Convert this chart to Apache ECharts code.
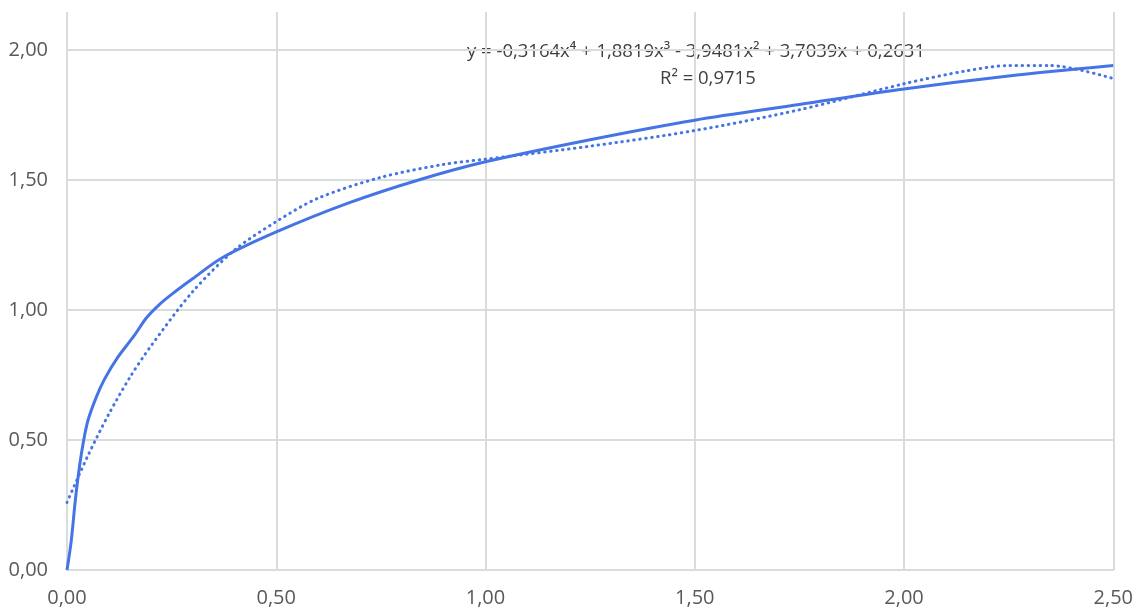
<!DOCTYPE html>
<html>
<head>
<meta charset="utf-8">
<title>Curve with polynomial trendline</title>
<script src="https://cdn.jsdelivr.net/npm/echarts@6/dist/echarts.min.js"></script>
<style>
  html, body { margin: 0; padding: 0; background: #fff; }
  #chart { width: 1136px; height: 610px; }
</style>
</head>
<body>
<div id="chart"></div>
<script>
const curveX = [0, 0.01, 0.02, 0.03, 0.04, 0.05, 0.07, 0.09, 0.12, 0.16, 0.19, 0.22, 0.25, 0.3, 0.37, 0.5, 0.67, 0.84, 1.0, 1.25, 1.5, 1.75, 2.0, 2.25, 2.5]
const curveY = [0, 0.11, 0.27, 0.40, 0.50, 0.575, 0.665, 0.735, 0.815, 0.90, 0.97, 1.02, 1.06, 1.12, 1.20, 1.30, 1.41, 1.50, 1.57, 1.655, 1.73, 1.79, 1.85, 1.90, 1.94]

// polynomial trendline (dotted)
const trendX = [0, 0.05, 0.1, 0.15, 0.2, 0.3, 0.4, 0.5, 0.6, 0.75, 0.9, 1.0, 1.25, 1.5, 1.75, 2.0, 2.15, 2.25, 2.35, 2.5]
const trendY = [0.26, 0.44, 0.60, 0.74, 0.86, 1.07, 1.23, 1.34, 1.43, 1.51, 1.56, 1.58, 1.63, 1.69, 1.77, 1.87, 1.92, 1.94, 1.94, 1.89]

const xTicks = [0, 0.5, 1.0, 1.5, 2.0, 2.5]
const equation = 'y = -0,3164x⁴ + 1,8819x³ - 3,9481x² + 3,7039x + 0,2631'
const rSquared = 'R² = 0,9715'

const lineColor = '#4575e4'
const gridColor = '#d9dcdc'
const textColor = '#595959'

const fmt = v => v.toFixed(2).replace('.', ',')

const chart = echarts.init(document.getElementById('chart'))
chart.setOption({
  animation: false,
  grid: {
    left: 67,
    right: 22,
    top: 12,
    bottom: 40
  },
  xAxis: {
    type: 'value',
    min: xTicks[0],
    max: xTicks[xTicks.length - 1],
    interval: 0.5,
    axisLine: { show: true, lineStyle: { color: gridColor, width: 2 } },
    axisTick: { show: false },
    axisLabel: {
      formatter: fmt,
      color: textColor,
      fontFamily: 'Open Sans',
      fontSize: 20,
      margin: 18
    },
    splitLine: { show: true, lineStyle: { color: gridColor, width: 2 } }
  },
  yAxis: {
    type: 'value',
    min: 0,
    max: 2.146,
    interval: 0.5,
    axisLine: { show: false },
    axisTick: { show: false },
    axisLabel: {
      formatter: fmt,
      color: textColor,
      fontFamily: 'Open Sans',
      fontSize: 20,
      margin: 19,
      showMaxLabel: false
    },
    splitLine: {
      show: true,
      showMaxLine: false,
      lineStyle: { color: gridColor, width: 2 }
    }
  },
  graphic: [{
    type: 'text',
    left: 467,
    top: 42,
    style: {
      text: equation,
      fill: '#404040',
      font: '18.5px "Open Sans"'
    }
  }, {
    type: 'text',
    left: 660,
    top: 69,
    style: {
      text: rSquared,
      fill: '#404040',
      font: '18.5px "Open Sans"'
    }
  }],
  series: [{
    name: 'Curve',
    type: 'line',
    smooth: 0.3,
    showSymbol: false,
    lineStyle: { color: lineColor, width: 3 },
    data: curveX.map((x, i) => [x, curveY[i]]),
    z: 3
  }, {
    name: 'Poly. (Curve)',
    type: 'line',
    smooth: 0.3,
    showSymbol: false,
    lineStyle: { color: lineColor, width: 3, type: [0.5, 5.5], cap: 'round' },
    data: trendX.map((x, i) => [x, trendY[i]]),
    z: 2
  }]
})
</script>
</body>
</html>
